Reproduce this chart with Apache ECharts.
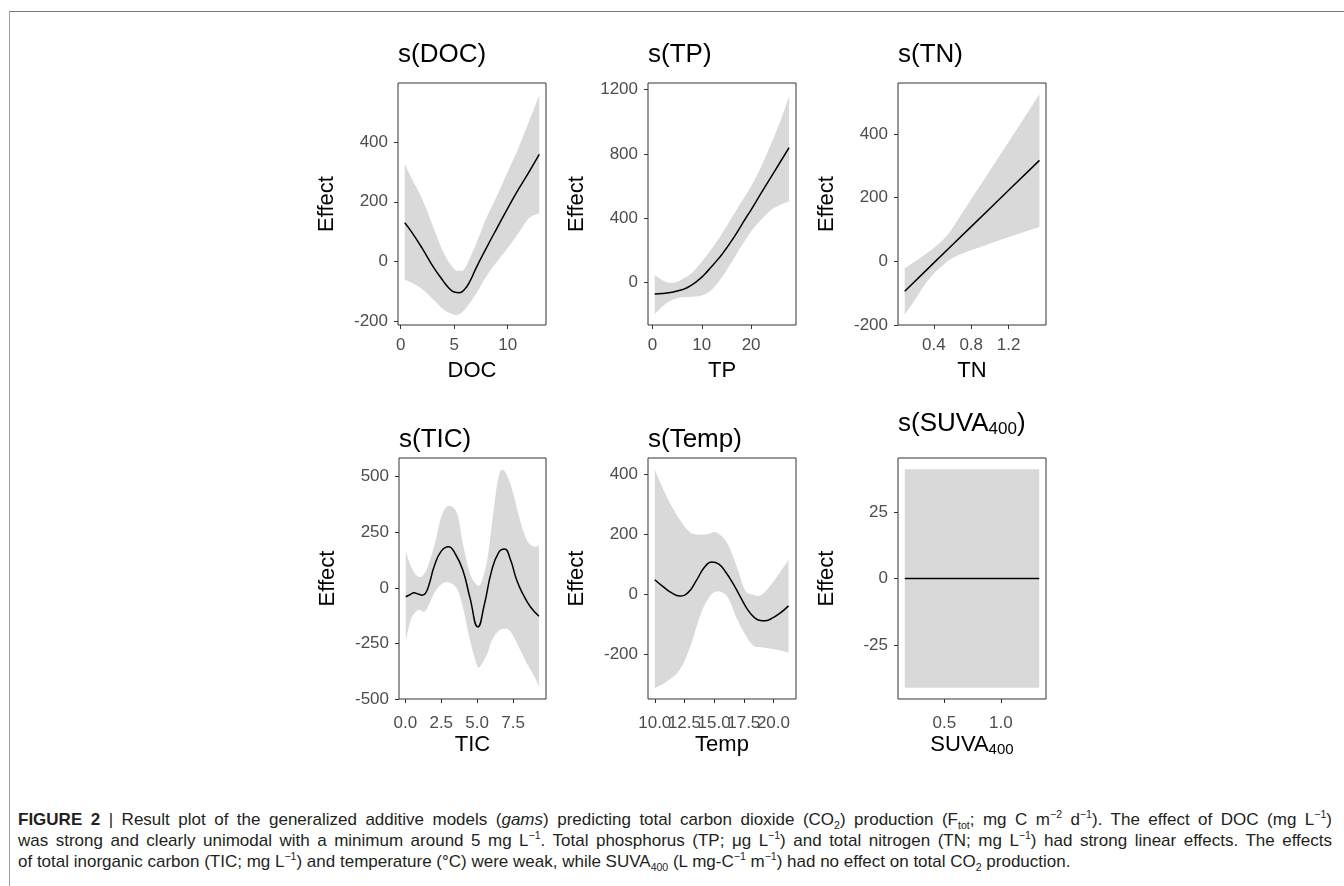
<!DOCTYPE html>
<html>
<head>
<meta charset="utf-8">
<script src="https://cdn.jsdelivr.net/npm/echarts@6/dist/echarts.min.js"></script>
<style>
html,body{margin:0;padding:0;background:#fff;width:1344px;height:886px;overflow:hidden;}
#frame{position:absolute;left:9px;top:11px;right:0;bottom:0;border-top:1px solid #7a7a7a;border-left:1px solid #a0a0a0;}
#chart{position:absolute;left:0;top:0;width:1344px;height:800px;}
#cap{position:absolute;left:18px;top:809px;width:1314px;font-family:"Liberation Sans",Arial,sans-serif;font-size:17px;line-height:21px;color:#231f20;}
#cap div{white-space:nowrap;}
#cap .j{text-align:justify;text-align-last:justify;white-space:normal;}
#cap sup,#cap sub{font-size:0.62em;line-height:0;}
#cap b{font-weight:bold;}
</style>
</head>
<body>
<div id="frame"></div>
<div id="chart"></div>
<div id="cap">
<div class="j"><b>FIGURE 2</b> | Result plot of the generalized additive models (<i>gams</i>) predicting total carbon dioxide (CO<sub>2</sub>) production (F<sub>tot</sub>; mg C m<sup>−2</sup> d<sup>−1</sup>). The effect of DOC (mg L<sup>−1</sup>)</div>
<div class="j">was strong and clearly unimodal with a minimum around 5 mg L<sup>−1</sup>. Total phosphorus (TP; μg L<sup>−1</sup>) and total nitrogen (TN; mg L<sup>−1</sup>) had strong linear effects. The effects</div>
<div>of total inorganic carbon (TIC; mg L<sup>−1</sup>) and temperature (°C) were weak, while SUVA<sub>400</sub> (L mg-C<sup>−1</sup> m<sup>−1</sup>) had no effect on total CO<sub>2</sub> production.</div>
</div>
<script>
// ---------- DATA ----------
// s(DOC)
const docX      = [0.38, 1, 2, 3, 4, 4.5, 5, 5.5, 6, 6.5, 7, 8, 9, 10, 11, 12, 12.95];
const docFit    = [130, 100, 45, -15, -66, -88, -102, -104, -92, -64, -25, 45, 112, 178, 241, 300, 358];
const docBandX  = [0.38, 1, 2, 3, 4, 5, 5.5, 6, 7, 8, 9, 10, 11, 12, 12.95];
const docHi     = [326, 280, 210, 120, 30, -25, -30, -22, 55, 145, 220, 300, 380, 470, 555];
const docLo     = [-61, -70, -92, -125, -160, -178, -175, -160, -110, -50, 0, 45, 95, 145, 161];
const docXTicks = [0, 5, 10];
const docYTicks = [-200, 0, 200, 400];

// s(TP)
const tpX      = [0.46, 2, 4, 6, 7, 8, 9, 10, 11, 12, 13, 14, 15, 16, 17, 18, 19, 20, 22, 24, 26, 27.7];
const tpFit    = [-71, -68, -60, -45, -32, -15, 8, 34, 65, 100, 135, 172, 214, 258, 305, 355, 405, 453, 555, 655, 755, 840];
const tpBandX  = [0.46, 2, 3, 4, 5, 6, 8, 10, 12, 14, 16, 18, 20, 22, 24, 26, 27.7];
const tpHi     = [48, 15, 2, -2, 5, 20, 60, 130, 210, 300, 400, 500, 600, 720, 860, 1010, 1160];
const tpLo     = [-196, -150, -125, -108, -97, -92, -88, -80, -45, 30, 125, 225, 318, 390, 450, 485, 505];
const tpXTicks = [0, 10, 20];
const tpYTicks = [0, 400, 800, 1200];

// s(TN)
const tnX      = [0.089, 0.4, 0.8, 1.2, 1.53];
const tnFit    = [-94, -5, 109, 223, 317];
const tnBandX  = [0.089, 0.2, 0.3, 0.4, 0.5, 0.57, 0.7, 0.9, 1.1, 1.3, 1.53];
const tnHi     = [-22, 0, 20, 42, 68, 92, 150, 240, 330, 420, 525];
const tnLo     = [-167, -120, -75, -38, -12, 5, 24, 45, 66, 86, 108];
const tnXTicks = [0.4, 0.8, 1.2];
const tnYTicks = [-200, 0, 200, 400];

// s(TIC)
const ticX      = [0.03, 0.35, 0.6, 0.9, 1.15, 1.4, 1.7, 2.0, 2.5, 3.0, 3.5, 4.0, 4.5, 5.05, 5.5, 6.0, 6.5, 6.9, 7.3, 7.75, 8.2, 8.7, 9.3];
const ticFit    = [-40, -30, -22, -28, -33, -25, 25, 95, 165, 185, 150, 80, -45, -176, -75, 75, 160, 175, 130, 35, -30, -85, -128];
const ticBandX  = [0.03, 0.4, 0.9, 1.4, 2.0, 2.5, 3.0, 3.6, 4.0, 4.5, 5.0, 5.3, 5.7, 6.0, 6.4, 6.75, 7.3, 8.0, 8.5, 9.0, 9.3];
const ticHi     = [163, 95, 50, 72, 185, 320, 368, 335, 200, 65, 12, 27, 125, 275, 470, 531, 470, 300, 210, 185, 192];
const ticLo     = [-236, -140, -100, -104, -25, 15, 25, -5, -85, -236, -350, -345, -296, -240, -200, -185, -195, -280, -345, -400, -447];
const ticXTicks = [0, 2.5, 5, 7.5];
const ticYTicks = [-500, -250, 0, 250, 500];

// s(Temp)
const tempX      = [10.0, 10.7, 11.4, 12.1, 12.8, 13.5, 14.2, 14.8, 15.4, 16.0, 16.6, 17.2, 17.8, 18.4, 18.9, 19.3, 19.8, 20.5, 21.27];
const tempFit    = [48, 25, 5, -6, 5, 45, 90, 107, 100, 72, 35, -8, -50, -78, -88, -89, -82, -65, -39];
const tempBandX  = [10.0, 11.0, 12.1, 13.0, 13.8, 14.5, 15.2, 16.1, 16.9, 17.6, 18.3, 19.0, 20.0, 21.27];
const tempHi     = [414, 325, 248, 205, 198, 200, 205, 170, 92, 14, -2, -2, 42, 114];
const tempLo     = [-313, -291, -252, -174, -74, -15, 9, -8, -80, -133, -171, -177, -183, -194];
const tempXTicks = [10, 12.5, 15, 17.5, 20];
const tempXTicksA = [10, 15, 20];   // label set 1 (labels overlap in the original)
const tempXTicksB = [12.5, 17.5];   // label set 2
const tempYTicks = [-200, 0, 200, 400];

// s(SUVA400)
const suvaX      = [0.15, 1.34];
const suvaFit    = [0, 0];
const suvaBandX  = [0.15, 1.34];
const suvaHi     = [41, 41];
const suvaLo     = [-41, -41];
const suvaXTicks = [0.5, 1.0];
const suvaYTicks = [-25, 0, 25];

// ---------- LAYOUT ----------
const FONT = '"Liberation Sans", Arial, Helvetica, sans-serif';
const panels = [
  {title:'s(DOC)', xName:'DOC', grid:{left:398, top:83, width:148, height:242}, xr:[-0.25, 13.58], yr:[-212, 597], xt:docXTicks, yt:docYTicks, dec:0,
   fx:docX, fy:docFit, bx:docBandX, lo:docLo, hi:docHi, tTop:40, lm:12},
  {title:'s(TP)', xName:'TP', grid:{left:648, top:83, width:148, height:242}, xr:[-0.9, 29.1], yr:[-264, 1242], xt:tpXTicks, yt:tpYTicks, dec:0,
   fx:tpX, fy:tpFit, bx:tpBandX, lo:tpLo, hi:tpHi, tTop:40, lm:12},
  {title:'s(TN)', xName:'TN', grid:{left:898, top:83, width:148, height:242}, xr:[0.017, 1.6], yr:[-200, 560], xt:tnXTicks, yt:tnYTicks, dec:1,
   fx:tnX, fy:tnFit, bx:tnBandX, lo:tnLo, hi:tnHi, tTop:40, lm:12},
  {title:'s(TIC)', xName:'TIC', grid:{left:399, top:458, width:147, height:241}, xr:[-0.44, 9.79], yr:[-500, 584], xt:ticXTicks, yt:ticYTicks, dec:1,
   fx:ticX, fy:ticFit, bx:ticBandX, lo:ticLo, hi:ticHi, tTop:425, lm:16},
  {title:'s(Temp)', xName:'Temp', grid:{left:648, top:458, width:148, height:241}, xr:[9.43, 21.9], yr:[-349, 453], xt:tempXTicks, xl:tempXTicksA, xl2:tempXTicksB, yt:tempYTicks, dec:1,
   fx:tempX, fy:tempFit, bx:tempBandX, lo:tempLo, hi:tempHi, tTop:425, lm:16},
  {title:'s(SUVA{sub|400})', xName:'SUVA{sub|400}', grid:{left:898, top:458, width:148, height:241}, xr:[0.09, 1.40], yr:[-45.2, 45.2], xt:suvaXTicks, yt:suvaYTicks, dec:1,
   fx:suvaX, fy:suvaFit, bx:suvaBandX, lo:suvaLo, hi:suvaHi, tTop:409, lm:16}
];

function spline(pts, steps) {
  const out = [];
  const n = pts.length;
  if (n < 3) return pts.slice();
  for (let i = 0; i < n - 1; i++) {
    const p0 = pts[Math.max(i - 1, 0)], p1 = pts[i], p2 = pts[i + 1], p3 = pts[Math.min(i + 2, n - 1)];
    const m1 = [(p2[0] - p0[0]) * 0.5, (p2[1] - p0[1]) * 0.5];
    const m2 = [(p3[0] - p1[0]) * 0.5, (p3[1] - p1[1]) * 0.5];
    for (let s = 0; s < steps; s++) {
      const t = s / steps, t2 = t * t, t3 = t2 * t;
      const h00 = 2 * t3 - 3 * t2 + 1, h10 = t3 - 2 * t2 + t, h01 = -2 * t3 + 3 * t2, h11 = t3 - t2;
      out.push([h00 * p1[0] + h10 * m1[0] + h01 * p2[0] + h11 * m2[0],
                h00 * p1[1] + h10 * m1[1] + h01 * p2[1] + h11 * m2[1]]);
    }
  }
  out.push(pts[n - 1]);
  return out;
}

const subRich = {sub: {fontSize: 15, fontFamily: FONT, color: '#000', padding: [9, 0, 0, 0]}};
const labelBase = {show: true, color: '#4d4d4d', fontSize: 17, fontFamily: FONT, interval: 0, hideOverlap: false, showMinLabel: true, showMaxLabel: true};

const option = {
  animation: false,
  backgroundColor: 'transparent',
  title: [], grid: [], xAxis: [], yAxis: [], series: []
};

const extraAxes = [];
panels.forEach((p, i) => {
  option.title.push({
    text: p.title, left: p.grid.left, top: p.tTop, padding: 0,
    textStyle: {fontSize: 26, fontWeight: 'normal', color: '#000', fontFamily: FONT, lineHeight: 30,
                rich: {sub: {fontSize: 17, fontFamily: FONT, color: '#000', padding: [10, 0, 0, 0]}}}
  });
  option.grid.push(Object.assign({show: true, borderColor: '#333', borderWidth: 1, backgroundColor: 'transparent',
    containLabel: false, outerBoundsMode: 'none'}, p.grid));
  const fmt = v => p.dec ? Number(v).toFixed(p.dec) : String(v);
  option.xAxis.push({
    gridIndex: i, type: 'value', min: p.xr[0], max: p.xr[1], position: 'bottom',
    axisLine: {show: false, onZero: false},
    axisTick: {show: true, inside: false, length: 4, lineStyle: {color: '#333', width: 1}, customValues: p.xt},
    axisLabel: Object.assign({}, labelBase, {customValues: p.xl || p.xt, formatter: fmt, margin: p.lm}),
    splitLine: {show: false},
    name: p.xName, nameLocation: 'middle', nameGap: 35,
    nameTextStyle: {fontSize: 22, color: '#000', fontFamily: FONT, lineHeight: 22, rich: subRich}
  });
  if (p.xl2) {
    extraAxes.push({
      gridIndex: i, type: 'value', min: p.xr[0], max: p.xr[1], position: 'bottom', offset: 0,
      axisLine: {show: false, onZero: false},
      axisTick: {show: false},
      axisLabel: Object.assign({}, labelBase, {customValues: p.xl2, formatter: fmt, margin: p.lm}),
      splitLine: {show: false}
    });
  }
  option.yAxis.push({
    gridIndex: i, type: 'value', min: p.yr[0], max: p.yr[1],
    axisLine: {show: false, onZero: false},
    axisTick: {show: true, inside: false, length: 4, lineStyle: {color: '#333', width: 1}, customValues: p.yt},
    axisLabel: Object.assign({}, labelBase, {customValues: p.yt, formatter: v => String(v), margin: 10}),
    splitLine: {show: false},
    name: 'Effect', nameLocation: 'middle', nameGap: 60, nameRotate: 90,
    nameTextStyle: {fontSize: 22, color: '#000', fontFamily: FONT, lineHeight: 22}
  });
  const bandRows = p.bx.map((x, k) => [x, p.lo[k], p.hi[k]]);
  option.series.push({
    type: 'custom', xAxisIndex: i, yAxisIndex: i, silent: true, z: 1,
    data: bandRows,
    encode: {x: 0, y: [1, 2]},
    renderItem: function (params, api) {
      if (params.dataIndex !== 0) return null;
      const up = bandRows.map(r => api.coord([r[0], r[2]]));
      const lw = bandRows.map(r => api.coord([r[0], r[1]]));
      const pts = spline(up, 10).concat(spline(lw, 10).reverse());
      return {type: 'polygon', shape: {points: pts}, style: {fill: '#d9d9d9', stroke: null}};
    }
  });
  option.series.push({
    type: 'line', xAxisIndex: i, yAxisIndex: i, silent: true, z: 3,
    data: p.fx.map((x, k) => [x, p.fy[k]]),
    smooth: 0.5, symbol: 'none', showSymbol: false,
    lineStyle: {color: '#000', width: 1.5}
  });
});
extraAxes.forEach(a => option.xAxis.push(a));

const chart = echarts.init(document.getElementById('chart'), null, {renderer: 'canvas'});
chart.setOption(option);
</script>
</body>
</html>
